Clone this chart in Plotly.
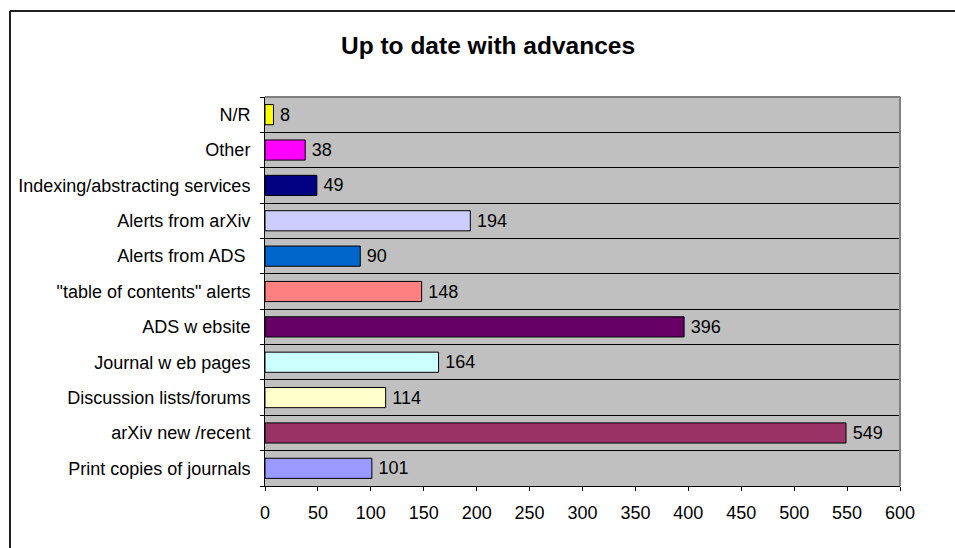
import plotly.graph_objects as go

categories = [
    "Print copies of journals",
    "arXiv new /recent",
    "Discussion lists/forums",
    "Journal w eb pages",
    "ADS w ebsite",
    "\"table of contents\" alerts",
    "Alerts from ADS ",
    "Alerts from arXiv",
    "Indexing/abstracting services",
    "Other",
    "N/R",
]
values = [101, 549, 114, 164, 396, 148, 90, 194, 49, 38, 8]
colors = [
    "#9999FF", "#993366", "#FFFFCC", "#CCFFFF", "#660066", "#FF8080",
    "#0066CC", "#CCCCFF", "#000080", "#FF00FF", "#FFFF00",
]
x_ticks = [0, 50, 100, 150, 200, 250, 300, 350, 400, 450, 500, 550, 600]
title_text = "Up to date with advances"

FONT = "Liberation Sans, Arial, sans-serif"
FS = 18

fig = go.Figure()
fig.add_trace(go.Bar(
    x=values,
    y=categories,
    orientation="h",
    marker=dict(color=colors, line=dict(color="black", width=1)),
    text=["\u2009" + str(v) for v in values],
    textposition="outside",
    textfont=dict(family=FONT, size=FS, color="black"),
    cliponaxis=False,
    hoverinfo="x+y",
))

W, H = 955, 548
L, R, T, B = 265, 900, 97, 486

fig.update_layout(
    width=W, height=H,
    margin=dict(l=L, r=W - R, t=T, b=H - B, pad=0),
    paper_bgcolor="white",
    plot_bgcolor="#C0C0C0",
    showlegend=False,
    bargap=0.43,
    font=dict(family=FONT, size=FS, color="black"),
    xaxis=dict(
        range=[0, 600],
        tickvals=x_ticks,
        ticktext=[str(t) for t in x_ticks],
        showgrid=False,
        zeroline=False,
        showline=True, linecolor="black", linewidth=1,
        ticks="outside", ticklen=4, tickcolor="black",
        tickfont=dict(family=FONT, size=FS, color="black"),
        ticklabelstandoff=6,
        fixedrange=True,
    ),
    yaxis=dict(
        type="category",
        categoryorder="array",
        categoryarray=categories,
        tickson="boundaries",
        showgrid=True, gridcolor="black", gridwidth=1,
        showline=True, linecolor="black", linewidth=1,
        ticks="outside", ticklen=4, tickcolor="black",
        tickfont=dict(family=FONT, size=FS, color="black"),
        ticklabelstandoff=10,
        fixedrange=True,
    ),
)

def px_x(px):
    return (px - L) / (R - L)

def px_y(py):
    return (B - py) / (B - T)

# plot area border (top & right gray)
fig.add_shape(type="line", xref="paper", yref="paper", x0=0, x1=1, y0=1, y1=1,
              line=dict(color="#808080", width=2), layer="above")
fig.add_shape(type="line", xref="paper", yref="paper", x0=1, x1=1, y0=0, y1=1,
              line=dict(color="#808080", width=2), layer="above")
# outer chart border: top and left edges (right/bottom lie outside the view)
fig.add_shape(type="line", xref="paper", yref="paper",
              x0=px_x(10), x1=px_x(W + 20), y0=px_y(11), y1=px_y(11),
              line=dict(color="#202020", width=2), layer="below")
fig.add_shape(type="line", xref="paper", yref="paper",
              x0=px_x(10), x1=px_x(10), y0=px_y(11), y1=px_y(H + 20),
              line=dict(color="#202020", width=2), layer="below")

fig.add_annotation(
    text="<b>" + title_text + "</b>",
    xref="paper", yref="paper", x=px_x(488), y=px_y(46),
    xanchor="center", yanchor="middle", showarrow=False,
    font=dict(family=FONT, size=24.5, color="black"),
)

fig.write_html("out.html", config={"displayModeBar": False})
